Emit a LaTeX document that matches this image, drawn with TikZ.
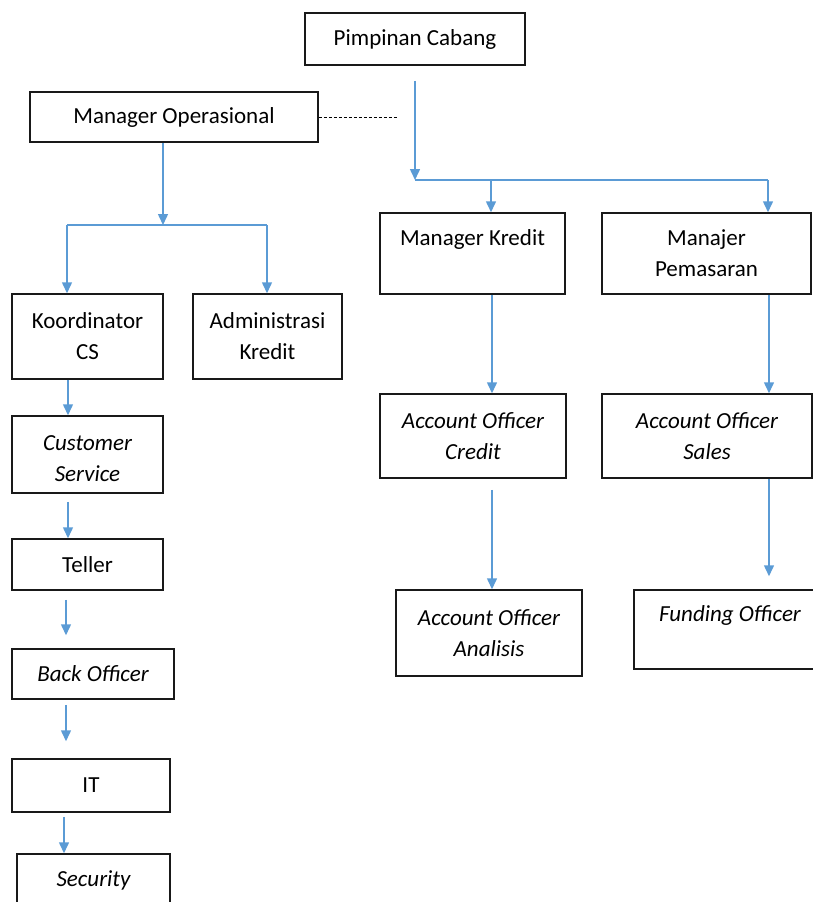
\documentclass[tikz,border=0pt]{standalone}
\usepackage{fontspec}
\setmainfont{Carlito}
\usetikzlibrary{arrows.meta}
\definecolor{lineblue}{RGB}{91,155,213}
\begin{document}
\begin{tikzpicture}[x=1pt,y=-1pt,
  box/.style={draw=black!90, line width=1.5pt, rectangle, inner sep=2pt, align=center,
    font=\fontsize{23}{31}\selectfont, text=black},
  conn/.style={draw=lineblue, line width=1.5pt},
  arr/.style={conn, -{Triangle[length=11pt,width=10pt]}}]
\useasboundingbox (0,0) rectangle (813,902);
% boxes
\node[box, minimum width=220pt, minimum height=52pt] (pc) at (415,39) {Pimpinan Cabang};
\node[box, minimum width=288pt, minimum height=50pt] (mo) at (174,117) {Manager Operasional};
\node[box, minimum width=185pt, minimum height=81pt] (mk) at (472.5,253.5) {\rule{0pt}{24pt}Manager Kredit\\\strut};
\node[box, minimum width=209pt, minimum height=81pt] (mp) at (706.5,253.5) {Manajer\\Pemasaran};
\node[box, minimum width=151pt, minimum height=85pt] (kcs) at (87.5,336.5) {Koordinator\\CS};
\node[box, minimum width=149pt, minimum height=85pt] (ak) at (267.5,336.5) {Administrasi\\Kredit};
\node[box, minimum width=151pt, minimum height=77pt] (cs) at (87.5,454.5) {\rule{0pt}{24pt}\itshape Customer\\\itshape Service};
\node[box, minimum width=151pt, minimum height=51pt] (tel) at (87.5,564.5) {Teller};
\node[box, minimum width=162pt, minimum height=50pt] (bo) at (93,674) {\itshape Back Officer};
\node[box, minimum width=158pt, minimum height=53pt] (it) at (91,785.5) {IT};
\node[box, minimum width=153pt, minimum height=52pt] (sec) at (93.5,880) {\itshape Security};
\node[box, minimum width=186pt, minimum height=84pt] (aoc) at (473,436) {\itshape Account Officer\\\itshape Credit};
\node[box, minimum width=210pt, minimum height=84pt] (aos) at (707,436) {\itshape Account Officer\\\itshape Sales};
\node[box, minimum width=186pt, minimum height=86pt] (aoa) at (489,633) {\itshape Account Officer\\\itshape Analisis};
\node[box, minimum width=192pt, minimum height=79pt] (fo) at (730,629.5) {\rule{0pt}{25pt}\itshape Funding Officer\\\strut};
% junction coordinates
\coordinate (j1) at (415,180);
\coordinate (jk) at (491,180);
\coordinate (jp) at (768,180);
\coordinate (dend) at (397,117);
\coordinate (j2) at (163,225);
\coordinate (jl) at (67,225);
\coordinate (jr) at (267,225);
% top level
\draw[arr, shorten <=15pt] (pc.south -| j1) -- (j1);
\draw[conn] (j1) -- (jp);
\draw[arr] (jk) -- (jk |- mk.north);
\draw[arr] (jp) -- (jp |- mp.north);
\draw[dashed, black, line width=1pt, dash pattern=on 3pt off 2pt] (mo.east) -- (dend);
% operasional branch
\draw[arr] (j2 |- mo.south) -- (j2);
\draw[conn, line width=2.4pt] (jl) -- (jr);
\draw[arr] (jl) -- (jl |- kcs.north);
\draw[arr] (jr) -- (jr |- ak.north);
% left column
\coordinate (c1) at (68,0);
\coordinate (c2) at (66,0);
\coordinate (c3) at (64,0);
\draw[arr] (c1 |- kcs.south) -- (c1 |- cs.north);
\draw[arr, shorten <=8pt] (c1 |- cs.south) -- (c1 |- tel.north);
\draw[arr, shorten <=9pt, shorten >=13pt] (c2 |- tel.south) -- (c2 |- bo.north);
\draw[arr, shorten <=5pt, shorten >=17pt] (c2 |- bo.south) -- (c2 |- it.north);
\draw[arr, shorten <=4pt] (c3 |- it.south) -- (c3 |- sec.north);
% right columns
\coordinate (k1) at (492,0);
\coordinate (k2) at (769,0);
\draw[arr] (k1 |- mk.south) -- (k1 |- aoc.north);
\draw[arr] (k2 |- mp.south) -- (k2 |- aos.north);
\draw[arr, shorten <=11pt] (k1 |- aoc.south) -- (k1 |- aoa.north);
\draw[arr, shorten >=13pt] (k2 |- aos.south) -- (k2 |- fo.north);
\end{tikzpicture}
\end{document}
